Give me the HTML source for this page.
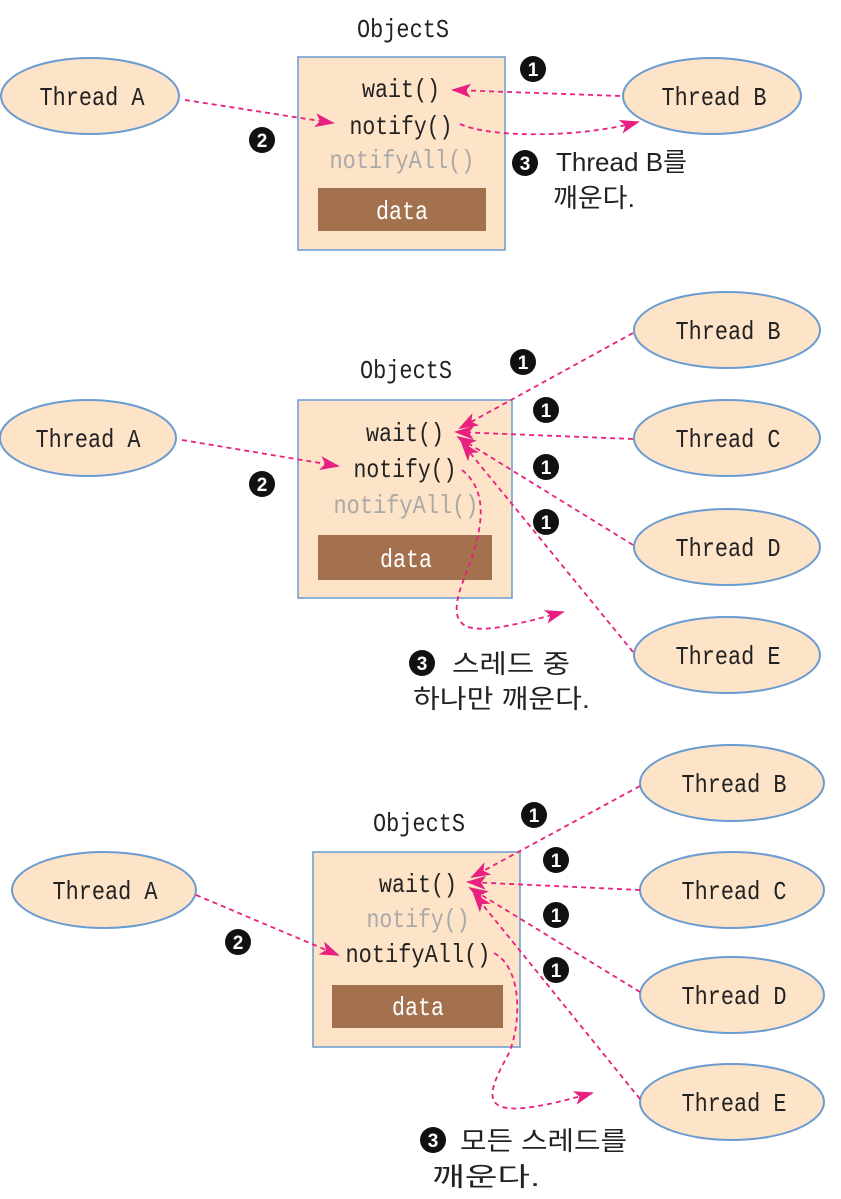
<!DOCTYPE html>
<html><head><meta charset="utf-8"><style>
html,body{margin:0;padding:0;background:#fff;}
svg{display:block;}
text{font-family:"Liberation Mono","DejaVu Sans Mono",monospace;}
.t{font-size:26px;fill:#222;text-anchor:middle;}
.g{fill:#a9a9a9;}
.d{fill:#fff;}
.k{font-family:"Liberation Sans","Noto Sans CJK KR",sans-serif;font-size:26px;fill:#222;}
.e{fill:#fde3c7;stroke:#6a9bd1;stroke-width:2;}
.b{fill:#fde3c7;stroke:#6a9bd1;stroke-width:1.5;}
.r{fill:#a3714d;}
.a{fill:none;stroke:#e8207f;stroke-width:1.8;stroke-dasharray:5,4;}
.n{font-family:"Liberation Sans",sans-serif;font-size:19px;font-weight:bold;fill:#fff;text-anchor:middle;}
</style></head><body>
<svg width="841" height="1199" viewBox="0 0 841 1199" xmlns="http://www.w3.org/2000/svg">
<defs>
<marker id="m" viewBox="0 0 20 14" refX="18" refY="7" markerWidth="20" markerHeight="14" markerUnits="userSpaceOnUse" orient="auto">
<path d="M0,0 L20,7 L0,14 L5,7 Z" fill="#e8207f"/>
</marker>
<g id="c"><circle r="13" fill="#111"/></g>
</defs>

<!-- Panel 1 -->
<text class="t" x="403" y="37" textLength="92" lengthAdjust="spacingAndGlyphs">ObjectS</text>
<rect class="b" x="298" y="57" width="207" height="193"/>
<text class="t" x="401" y="97" textLength="78" lengthAdjust="spacingAndGlyphs">wait()</text>
<text class="t" x="401" y="134" textLength="103" lengthAdjust="spacingAndGlyphs">notify()</text>
<text class="t g" x="402" y="168" textLength="145" lengthAdjust="spacingAndGlyphs">notifyAll()</text>
<rect class="r" x="318" y="188" width="168" height="43"/>
<text class="t d" x="402" y="219" textLength="52" lengthAdjust="spacingAndGlyphs">data</text>
<ellipse class="e" cx="90" cy="96" rx="89" ry="38"/>
<text class="t" x="92" y="105" textLength="105" lengthAdjust="spacingAndGlyphs">Thread A</text>
<ellipse class="e" cx="712" cy="96" rx="89" ry="38"/>
<text class="t" x="714" y="105" textLength="105" lengthAdjust="spacingAndGlyphs">Thread B</text>
<path class="a" d="M185,100 L333,123" marker-end="url(#m)"/>
<path class="a" d="M620,96 L453,90" marker-end="url(#m)"/>
<path class="a" d="M460,124 C490,138 580,138 638,122" marker-end="url(#m)"/>
<use href="#c" x="533" y="69"/><text class="n" x="533" y="76">1</text>
<use href="#c" x="262" y="140"/><text class="n" x="262" y="147">2</text>
<use href="#c" x="525" y="163"/><text class="n" x="525" y="170">3</text>
<text class="k" x="556" y="171" textLength="131" lengthAdjust="spacingAndGlyphs">Thread B를</text>
<text class="k" x="553" y="207" textLength="82" lengthAdjust="spacingAndGlyphs">깨운다.</text>

<!-- Panel 2 -->
<text class="t" x="406" y="378" textLength="92" lengthAdjust="spacingAndGlyphs">ObjectS</text>
<rect class="b" x="298" y="400" width="214" height="198"/>
<text class="t" x="405" y="441" textLength="78" lengthAdjust="spacingAndGlyphs">wait()</text>
<text class="t" x="405" y="477" textLength="103" lengthAdjust="spacingAndGlyphs">notify()</text>
<text class="t g" x="406" y="513" textLength="145" lengthAdjust="spacingAndGlyphs">notifyAll()</text>
<rect class="r" x="318" y="535" width="174" height="45"/>
<text class="t d" x="406" y="567" textLength="52" lengthAdjust="spacingAndGlyphs">data</text>
<ellipse class="e" cx="88" cy="438" rx="88" ry="38"/>
<text class="t" x="88" y="447" textLength="105" lengthAdjust="spacingAndGlyphs">Thread A</text>
<ellipse class="e" cx="727" cy="330" rx="93" ry="38"/><text class="t" x="728" y="339" textLength="105" lengthAdjust="spacingAndGlyphs">Thread B</text>
<ellipse class="e" cx="727" cy="438" rx="93" ry="38"/><text class="t" x="728" y="447" textLength="105" lengthAdjust="spacingAndGlyphs">Thread C</text>
<ellipse class="e" cx="727" cy="547" rx="93" ry="38"/><text class="t" x="728" y="556" textLength="105" lengthAdjust="spacingAndGlyphs">Thread D</text>
<ellipse class="e" cx="727" cy="655" rx="93" ry="38"/><text class="t" x="728" y="664" textLength="105" lengthAdjust="spacingAndGlyphs">Thread E</text>
<path class="a" d="M182,440 L338,466" marker-end="url(#m)"/>
<path class="a" d="M633,333 L460,428" marker-end="url(#m)"/>
<path class="a" d="M633,439 L456,432" marker-end="url(#m)"/>
<path class="a" d="M633,545 L458,437" marker-end="url(#m)"/>
<path class="a" d="M633,652 L462,443" marker-end="url(#m)"/>
<path class="a" d="M462,470 C500,500 470,560 460,590 C445,640 480,635 563,612" marker-end="url(#m)"/>
<use href="#c" x="523" y="362"/><text class="n" x="523" y="369">1</text>
<use href="#c" x="546" y="410"/><text class="n" x="546" y="417">1</text>
<use href="#c" x="546" y="467"/><text class="n" x="546" y="474">1</text>
<use href="#c" x="546" y="522"/><text class="n" x="546" y="529">1</text>
<use href="#c" x="262" y="484"/><text class="n" x="262" y="491">2</text>
<use href="#c" x="422" y="663"/><text class="n" x="422" y="670">3</text>
<text class="k" x="452" y="673" textLength="118" lengthAdjust="spacingAndGlyphs">스레드 중</text>
<text class="k" x="413" y="708" textLength="177" lengthAdjust="spacingAndGlyphs">하나만 깨운다.</text>

<!-- Panel 3 -->
<text class="t" x="419" y="831" textLength="92" lengthAdjust="spacingAndGlyphs">ObjectS</text>
<rect class="b" x="313" y="852" width="207" height="195"/>
<text class="t" x="418" y="892" textLength="78" lengthAdjust="spacingAndGlyphs">wait()</text>
<text class="t g" x="418" y="927" textLength="103" lengthAdjust="spacingAndGlyphs">notify()</text>
<text class="t" x="418" y="962" textLength="145" lengthAdjust="spacingAndGlyphs">notifyAll()</text>
<rect class="r" x="332" y="985" width="171" height="43"/>
<text class="t d" x="418" y="1015" textLength="52" lengthAdjust="spacingAndGlyphs">data</text>
<ellipse class="e" cx="104" cy="890" rx="92" ry="38"/>
<text class="t" x="105" y="899" textLength="105" lengthAdjust="spacingAndGlyphs">Thread A</text>
<ellipse class="e" cx="732" cy="783" rx="92" ry="38"/><text class="t" x="734" y="792" textLength="105" lengthAdjust="spacingAndGlyphs">Thread B</text>
<ellipse class="e" cx="732" cy="890" rx="92" ry="38"/><text class="t" x="734" y="899" textLength="105" lengthAdjust="spacingAndGlyphs">Thread C</text>
<ellipse class="e" cx="732" cy="995" rx="92" ry="38"/><text class="t" x="734" y="1004" textLength="105" lengthAdjust="spacingAndGlyphs">Thread D</text>
<ellipse class="e" cx="732" cy="1102" rx="92" ry="38"/><text class="t" x="734" y="1111" textLength="105" lengthAdjust="spacingAndGlyphs">Thread E</text>
<path class="a" d="M196,895 L338,955" marker-end="url(#m)"/>
<path class="a" d="M640,786 L472,877" marker-end="url(#m)"/>
<path class="a" d="M640,890 L468,882" marker-end="url(#m)"/>
<path class="a" d="M640,992 L470,888" marker-end="url(#m)"/>
<path class="a" d="M640,1099 L474,894" marker-end="url(#m)"/>
<path class="a" d="M494,953 C525,970 520,1030 508,1055 C480,1105 480,1125 592,1093" marker-end="url(#m)"/>
<use href="#c" x="534" y="815"/><text class="n" x="534" y="822">1</text>
<use href="#c" x="556" y="860"/><text class="n" x="556" y="867">1</text>
<use href="#c" x="556" y="915"/><text class="n" x="556" y="922">1</text>
<use href="#c" x="556" y="970"/><text class="n" x="556" y="977">1</text>
<use href="#c" x="238" y="942"/><text class="n" x="238" y="949">2</text>
<use href="#c" x="433" y="1140"/><text class="n" x="433" y="1147">3</text>
<text class="k" x="460" y="1150" textLength="167" lengthAdjust="spacingAndGlyphs">모든 스레드를</text>
<text class="k" x="432" y="1186" textLength="108" lengthAdjust="spacingAndGlyphs">깨운다.</text>
</svg>
</body></html>
